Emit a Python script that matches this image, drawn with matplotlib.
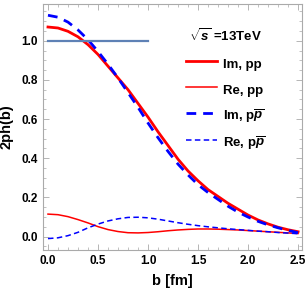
import numpy as np
import matplotlib
matplotlib.use("Agg")
import matplotlib.pyplot as plt
from matplotlib.ticker import MultipleLocator

plt.rcParams['font.family'] = ['Liberation Sans', 'DejaVu Sans']
plt.rcParams['font.weight'] = 'bold'
plt.rcParams['mathtext.fontset'] = 'custom'
plt.rcParams['mathtext.rm'] = 'Liberation Sans:bold'
plt.rcParams['mathtext.it'] = 'Liberation Sans:bold:italic'
plt.rcParams['mathtext.bf'] = 'Liberation Sans:bold'

# impact parameter b [fm]
b = [0.0, 0.1, 0.2, 0.3, 0.4, 0.5, 0.6, 0.7, 0.8, 0.9, 1.0, 1.1, 1.2,
     1.3, 1.4, 1.5, 1.6, 1.7, 1.8, 1.9, 2.0, 2.1, 2.2, 2.3, 2.4, 2.5]

im_pp = [1.07, 1.065, 1.048, 1.02, 0.98, 0.93, 0.87, 0.81, 0.75, 0.68, 0.61,
         0.535, 0.465, 0.395, 0.335, 0.285, 0.24, 0.205, 0.17, 0.14, 0.11,
         0.085, 0.065, 0.048, 0.035, 0.025]
re_pp = [0.115, 0.112, 0.102, 0.087, 0.07, 0.051, 0.036, 0.026, 0.02, 0.019,
         0.021, 0.025, 0.03, 0.034, 0.037, 0.039, 0.039, 0.038, 0.036, 0.034,
         0.031, 0.028, 0.025, 0.022, 0.019, 0.016]
im_ppbar = [1.13, 1.12, 1.095, 1.055, 1.005, 0.945, 0.88, 0.81, 0.735, 0.66,
            0.58, 0.505, 0.435, 0.37, 0.315, 0.265, 0.225, 0.19, 0.155, 0.125,
            0.10, 0.078, 0.06, 0.045, 0.032, 0.02]
re_ppbar = [-0.01, -0.006, 0.005, 0.022, 0.045, 0.064, 0.08, 0.091, 0.098,
            0.099, 0.096, 0.089, 0.08, 0.071, 0.063, 0.056, 0.05, 0.045, 0.04,
            0.036, 0.032, 0.028, 0.025, 0.021, 0.018, 0.015]

# unitarity limit line
limit_b = [0.0, 1.0]
limit_v = [1.0, 1.0]

fig = plt.figure(figsize=(3.07, 2.92), dpi=100)
ax = fig.add_axes([0.140, 0.144, 0.844, 0.844])

ax.plot(b, im_pp, color='#ff0000', lw=2.0, label='Im, pp')
ax.plot(b, re_pp, color='#ff0000', lw=1.1, label='Re, pp')
ax.plot(b, im_ppbar, color='#0000ff', lw=2.0, ls=(0, (3.5, 2.5)),
        label=r'Im, p$\overline{p}$')
ax.plot(b, re_ppbar, color='#0000ff', lw=1.1, ls=(0, (3.6, 2.2)),
        label=r'Re, p$\overline{p}$')
ax.plot(limit_b, limit_v, color='#5e81b5', lw=1.6)

ax.set_xlim(-0.05, 2.54)
ax.set_ylim(-0.068, 1.19)

ax.xaxis.set_major_locator(MultipleLocator(0.5))
ax.xaxis.set_minor_locator(MultipleLocator(0.1))
ax.yaxis.set_major_locator(MultipleLocator(0.2))
ax.yaxis.set_minor_locator(MultipleLocator(0.05))
ax.xaxis.set_major_formatter(plt.FuncFormatter(lambda v, p: f"{v:.1f}"))
ax.yaxis.set_major_formatter(plt.FuncFormatter(lambda v, p: f"{v:.1f}"))

ax.tick_params(which='both', direction='in', top=True, right=True,
               colors='#aaaaaa', labelcolor='black', labelsize=8.5)
ax.tick_params(which='major', length=4, width=0.6)
ax.tick_params(which='minor', length=2, width=0.5)
for s in ax.spines.values():
    s.set_color('#aaaaaa')
    s.set_linewidth(0.8)

ax.set_xlabel('b [fm]', fontsize=10.5, fontweight='bold', labelpad=5)
ax.set_ylabel('2ph(b)', fontsize=10.5, fontweight='bold', labelpad=6)

leg = ax.legend(loc='upper left', bbox_to_anchor=(0.505, 0.953),
                frameon=False, fontsize=9.5, handlelength=2.4,
                handleheight=1.6, labelspacing=0.69, handletextpad=0.4,
                title=r'$\sqrt{s}$ =13TeV',
                title_fontproperties={'size': 9.5, 'weight': 'bold'})
leg._legend_box.sep = 8

fig.savefig('out.png', dpi=100)
